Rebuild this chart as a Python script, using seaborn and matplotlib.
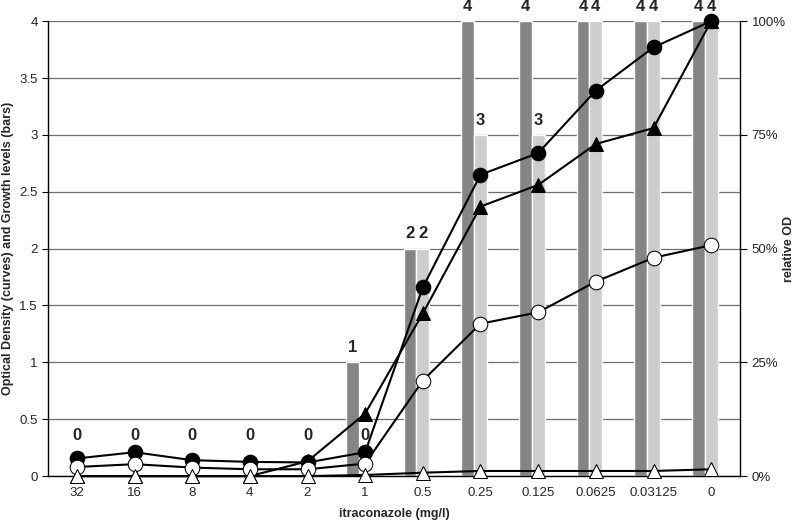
import numpy as np
import matplotlib
matplotlib.use("Agg")
import matplotlib.pyplot as plt
import seaborn as sns
from matplotlib.ticker import PercentFormatter, FixedLocator

# itraconazole concentrations (mg/l)
conc = ["32", "16", "8", "4", "2", "1", "0.5", "0.25", "0.125", "0.0625", "0.03125", "0"]

# growth levels (bars)
growth_dark = [0, 0, 0, 0, 0, 1, 2, 4, 4, 4, 4, 4]
growth_light = [0, 0, 0, 0, 0, 0, 2, 3, 3, 4, 4, 4]

# optical density curves
od_filled_circle = [0.155, 0.21, 0.14, 0.125, 0.12, 0.21, 1.66, 2.65, 2.84, 3.39, 3.77, 4.0]
od_filled_tri = [0, 0, 0, 0, 0.13, 0.55, 1.43, 2.37, 2.56, 2.92, 3.06, 4.0]
od_open_circle = [0.08, 0.105, 0.075, 0.06, 0.06, 0.11, 0.84, 1.34, 1.44, 1.71, 1.92, 2.03]
od_open_tri = [0, 0, 0, 0, 0, 0.01, 0.03, 0.045, 0.045, 0.045, 0.045, 0.06]

sns.set_style("white")
plt.rcParams["font.family"] = ["Liberation Sans", "DejaVu Sans"]

fig = plt.figure(figsize=(8, 5.29), dpi=100)
ax = fig.add_axes([0.06, 0.1, 0.865, 0.86])

pos = np.arange(len(conc))
w = 0.22

# bars
ax.bar(pos - w, growth_dark, width=w, color="#858585", zorder=2)
ax.bar(pos, growth_light, width=w, color="#cdcdcd", zorder=2)

# bar labels
for i in range(len(conc)):
    if growth_dark[i] > 0:
        ax.text(pos[i] - w, growth_dark[i] + 0.13, str(growth_dark[i]),
                ha="center", va="center", fontsize=12, fontweight="bold")
    y = growth_light[i] + 0.13 if growth_light[i] > 0 else 0.36
    ax.text(pos[i], y, str(growth_light[i]),
            ha="center", va="center", fontsize=12, fontweight="bold")

# curves
common = dict(color="black", linewidth=1.5, markeredgecolor="black",
              markersize=10.5, clip_on=False, zorder=4)
sns.lineplot(x=pos, y=od_filled_tri, marker="^", markerfacecolor="black", ax=ax, **common)
sns.lineplot(x=pos, y=od_filled_circle, marker="o", markerfacecolor="black", ax=ax, **common)
sns.lineplot(x=pos, y=od_open_circle, marker="o", markerfacecolor="white", ax=ax, **common)
sns.lineplot(x=pos, y=od_open_tri, marker="^", markerfacecolor="white", ax=ax, **common)

ax.set_xlim(-0.5, len(conc) - 0.5)
ax.set_ylim(0, 4)
ax.set_yticks(np.arange(0, 4.01, 0.5))
ax.set_yticklabels(["0", "0.5", "1", "1.5", "2", "2.5", "3", "3.5", "4"])
ax.set_xticks(pos)
ax.set_xticklabels(conc)
ax.xaxis.set_minor_locator(FixedLocator(np.arange(-0.5, len(conc), 1)))
ax.tick_params(axis="x", which="major", length=0, labelsize=9.5, pad=8)
ax.tick_params(axis="x", which="minor", length=5, direction="out", color="black")
ax.tick_params(axis="y", length=4, direction="out", color="black", labelsize=9.5, left=True)
ax.grid(axis="y", color="#6e6e6e", linewidth=0.9, zorder=0)
ax.set_axisbelow(True)

for side in ["top", "right"]:
    ax.spines[side].set_visible(False)
for side in ["left", "bottom"]:
    ax.spines[side].set_color("black")
    ax.spines[side].set_linewidth(1)

ax.set_xlabel("itraconazole (mg/l)", fontsize=9, fontweight="bold", labelpad=6)
ax.set_ylabel("Optical Density (curves) and Growth levels (bars)", fontsize=9, fontweight="bold")

# right axis
ax2 = ax.twinx()
ax2.set_ylim(0, 1)
ax2.set_yticks([0, 0.25, 0.5, 0.75, 1.0])
ax2.yaxis.set_major_formatter(PercentFormatter(1.0, decimals=0))
ax2.tick_params(axis="y", length=5, direction="out", color="black", labelsize=9.5, right=True)
for side in ["top", "left", "bottom"]:
    ax2.spines[side].set_visible(False)
ax2.spines["right"].set_color("black")
ax2.spines["right"].set_linewidth(1)
ax2.set_ylabel("relative OD", fontsize=9, fontweight="bold", labelpad=-2)
ax2.grid(False)

fig.savefig("out.png", dpi=100)
